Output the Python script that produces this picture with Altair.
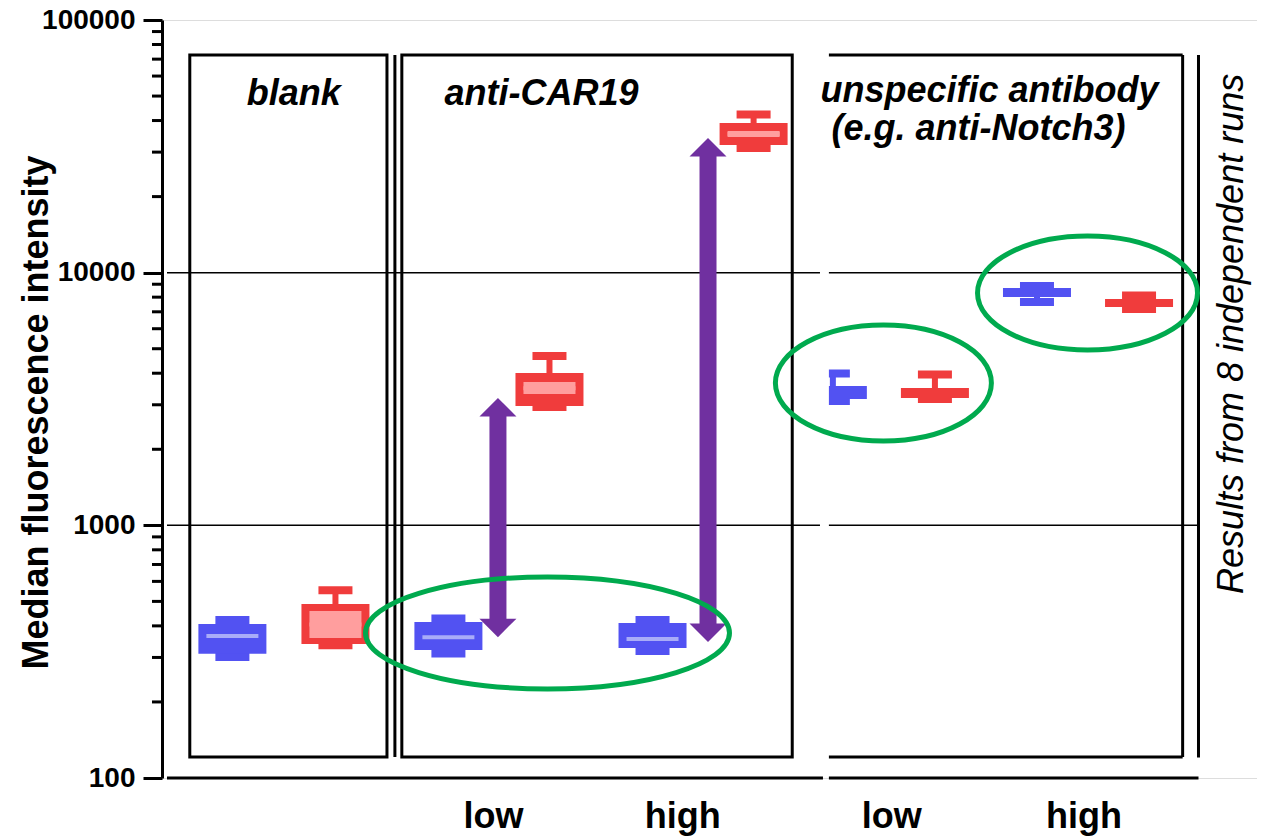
import altair as alt
import pandas as pd

FONT = "Liberation Sans"
BLUE, BLUE_L = "#5252F2", "#A9ACF8"
RED, RED_L = "#F03C3C", "#FF9E9E"
PURPLE, GREEN = "#7030A0", "#00AA4E"

# ---------------- data ----------------
# box positions (x units of the schematic) and groups
box_x = [66, 170, 284, 386, 490, 592, 672, 775, 878, 981]
box_colour = ["blue", "red"] * 5
whisk_hi = [422, 554, 428, 4677, 422, 42270, 3988, 3953, 8857, 8124]
box_hi = [407, 488, 414, 4007, 411, 39120, 3558, 3494, 8699, 7871]
box_lo = [310, 339, 321, 2966, 327, 32020, 3161, 3190, 8015, 7317]
whisk_lo = [301, 335, 311, 2940, 318, 31150, 3104, 3161, 7656, 7185]
median = [365, 405, 361, 3490, 355, 35400, None, None, None, None]

# lighter inner band of the red boxes
band_x = [170, 386, 592]
band_lo = [358, 3309, 34440]
band_hi = [458, 3690, 36370]

# y axis ticks
major_ticks = [100, 1000, 10000, 100000]
minor_ticks = [200, 300, 400, 500, 600, 700, 800, 900,
               2000, 3000, 4000, 5000, 6000, 7000, 8000, 9000,
               20000, 30000, 40000, 50000, 60000, 70000, 80000, 90000]

# x axis labels
level_pos = [329, 520, 731, 925]
level_text = ["low", "high", "low", "high"]

# panel titles
panel_text = ["blank", "anti-CAR19", "unspecific antibody", "(e.g. anti-Notch3)"]
panel_text_x = [128, 378, 830, 819]
panel_text_y = [46090, 46090, 47370, 33500]

side_text = ["Results from 8 independent runs"]
side_text_x = [1075]
side_text_y = [5720]

# panel frames
frame_x = [23, 237]
frame_x2 = [222, 631]
frame_top = 72700
frame_bottom = 121

# line segments: (x, x2, y, y2)
seg_x = [668, 1025, 668, 230, 1041]
seg_x2 = [1025, 1025, 1025, 230, 1041]
seg_y = [frame_top, frame_bottom, frame_bottom, frame_bottom, 120.5]
seg_y2 = [frame_top, frame_top, frame_bottom, frame_top, frame_top]

grid_y = [1000, 1000, 10000, 10000]
grid_x = [0, 668, 0, 668]
grid_x2 = [659, 1041, 659, 1041]

base_x = [0, 668]
base_x2 = [662, 1041]

# arrows (tip values)
arrow_x = [334, 546]
arrow_top = [3190, 34120]
arrow_bottom = [361, 345]

# ellipses
ell_x = [384, 723, 929]
ell_y = [375, 3658, 8310]
ell_rx = [182, 108, 110]
ell_ry = [56, 58, 57]

# ---------------- chart ----------------
W, H = 1095, 758
decade_px = H / 3.0

xs = alt.Scale(domain=[0, W], nice=False, zero=False)
ys = alt.Scale(type="log", domain=[100, 100000], nice=False)

label_expr = " : ".join(f"datum.value == {p} ? '{t}'" for p, t in zip(level_pos, level_text)) + " : ''"

xaxis = alt.Axis(values=level_pos, labelExpr=label_expr, domain=False, ticks=False, tickSize=0,
                 grid=False, title=None, labelFont=FONT, labelFontSize=36, labelFontWeight="bold",
                 labelColor="black", labelPadding=21, labelFlush=False, labelOverlap=False)
yaxis = alt.Axis(values=major_ticks, format="d", tickSize=19, tickWidth=3, tickColor="black",
                 domainWidth=3, domainColor="black", labelFont=FONT, labelFontSize=28,
                 labelFontWeight="bold", labelColor="black", labelPadding=8, grid=False,
                 labelFlush=False, labelOverlap=False,
                 title="Median fluorescence intensity", titleFont=FONT, titleFontSize=36,
                 titleFontWeight="bold", titleColor="black", titleAngle=270, titleX=-126,
                 titleY=392, titleAlign="center", titleBaseline="middle")


def X(f):
    return alt.X(f, type="quantitative", scale=xs, axis=xaxis)


def Y(f):
    return alt.Y(f, type="quantitative", scale=ys, axis=yaxis)


boxes = pd.DataFrame(dict(x=box_x, c=box_colour, whi=whisk_hi, q3=box_hi, q1=box_lo,
                          wlo=whisk_lo, med=median))
meds = boxes[boxes["med"].notna()]
bands = pd.DataFrame(dict(x=band_x, lo=band_lo, hi=band_hi))
col = alt.condition(alt.datum.c == "blue", alt.value(BLUE), alt.value(RED))
col_l = alt.condition(alt.datum.c == "blue", alt.value(BLUE_L), alt.value(RED_L))

grid = alt.Chart(pd.DataFrame(dict(x=grid_x, x2=grid_x2, y=grid_y))).mark_rule(
    color="black", strokeWidth=1.5).encode(x=X("x"), x2="x2", y=Y("y"))
base = alt.Chart(pd.DataFrame(dict(x=base_x, x2=base_x2, y=[100, 100]))).mark_rule(
    color="black", strokeWidth=3).encode(x=X("x"), x2="x2", y=Y("y"))
minor = alt.Chart(pd.DataFrame(dict(v=minor_ticks))).mark_rule(
    color="black", strokeWidth=3).encode(x=alt.value(-10), x2=alt.value(0), y=Y("v"))
frames = alt.Chart(pd.DataFrame(dict(x=frame_x, x2=frame_x2, y=[frame_bottom] * 2,
                                     y2=[frame_top] * 2))).mark_rect(
    fill=None, stroke="black", strokeWidth=3, fillOpacity=0).encode(
    x=X("x"), x2="x2", y=Y("y"), y2="y2")
segs = alt.Chart(pd.DataFrame(dict(x=seg_x, x2=seg_x2, y=seg_y, y2=seg_y2))).mark_rule(
    color="black", strokeWidth=3).encode(x=X("x"), x2="x2", y=Y("y"), y2="y2")

stems = alt.Chart(boxes).mark_rule(strokeWidth=6).encode(x=X("x"), y=Y("wlo"), y2="whi", color=col)
cap_hi = alt.Chart(boxes).mark_tick(orient="horizontal", thickness=8, size=34, opacity=1).encode(
    x=X("x"), y=Y("whi"), color=col)
cap_lo = alt.Chart(boxes).mark_tick(orient="horizontal", thickness=8, size=34, opacity=1).encode(
    x=X("x"), y=Y("wlo"), color=col)
body = alt.Chart(boxes).mark_bar(size=68).encode(x=X("x"), y=Y("q1"), y2="q3", color=col)
band = alt.Chart(bands).mark_bar(size=52, color=RED_L).encode(x=X("x"), y=Y("lo"), y2="hi")
med = alt.Chart(meds).mark_tick(orient="horizontal", thickness=4, size=52, opacity=1).encode(
    x=X("x"), y=Y("med"), color=col_l)

mask = alt.Chart(pd.DataFrame(dict(x=[634], x2=[668], y=[2900], y2=[4300]))).mark_rect(
    color="white").encode(x=X("x"), x2="x2", y=Y("y"), y2="y2")

head_px = 17.0
f = 10 ** (head_px / decade_px)
arrows = pd.DataFrame(dict(x=arrow_x, top=arrow_top, bottom=arrow_bottom))
arrows["st"] = arrows["top"] / f
arrows["sb"] = arrows["bottom"] * f
shaft = alt.Chart(arrows).mark_rule(strokeWidth=17, color=PURPLE).encode(
    x=X("x"), y=Y("sb"), y2="st")
head_up = alt.Chart(arrows).mark_point(shape="M0,0L-1,1L1,1Z", size=37 ** 2, filled=True,
                                       color=PURPLE, opacity=1, strokeWidth=0).encode(
    x=X("x"), y=Y("top"))
head_dn = alt.Chart(arrows).mark_point(shape="M0,0L-1,-1L1,-1Z", size=37 ** 2, filled=True,
                                       color=PURPLE, opacity=1, strokeWidth=0).encode(
    x=X("x"), y=Y("bottom"))


def ellipse_path(k):
    c = 0.5523
    return (f"M-1,0C-1,{-k*c:.4f} {-c},{-k:.4f} 0,{-k:.4f}"
            f"C{c},{-k:.4f} 1,{-k*c:.4f} 1,0"
            f"C1,{k*c:.4f} {c},{k:.4f} 0,{k:.4f}"
            f"C{-c},{k:.4f} -1,{k*c:.4f} -1,0Z")


ellipses = []
for ex, ey, rx, ry in zip(ell_x, ell_y, ell_rx, ell_ry):
    ellipses.append(
        alt.Chart(pd.DataFrame(dict(x=[ex], y=[ey]))).mark_point(
            shape=ellipse_path(ry / rx), size=(2 * rx) ** 2, filled=False, color=GREEN,
            strokeWidth=5, opacity=1).encode(x=X("x"), y=Y("y")))

titles = alt.Chart(pd.DataFrame(dict(x=panel_text_x, y=panel_text_y, t=panel_text))).mark_text(
    font=FONT, fontSize=36, fontWeight="bold", fontStyle="italic", align="center",
    baseline="alphabetic", color="black").encode(x=X("x"), y=Y("y"), text="t:N")
side = alt.Chart(pd.DataFrame(dict(x=side_text_x, y=side_text_y, t=side_text))).mark_text(
    font=FONT, fontSize=36, fontStyle="italic", align="center", baseline="middle",
    angle=270, color="black").encode(x=X("x"), y=Y("y"), text="t:N")

chart = alt.layer(
    grid, base, minor, frames, segs, stems, cap_hi, cap_lo, body, band, med, mask,
    shaft, head_up, head_dn, *ellipses, titles, side
).properties(
    width=W, height=H,
    autosize=alt.AutoSizeParams(type="none"),
    padding={"left": 154, "top": 12, "right": 0, "bottom": 59},
    background="white",
).configure_view(stroke=None).configure(font=FONT)

chart.save("out.html", embed_options={"renderer": "svg", "actions": False})
